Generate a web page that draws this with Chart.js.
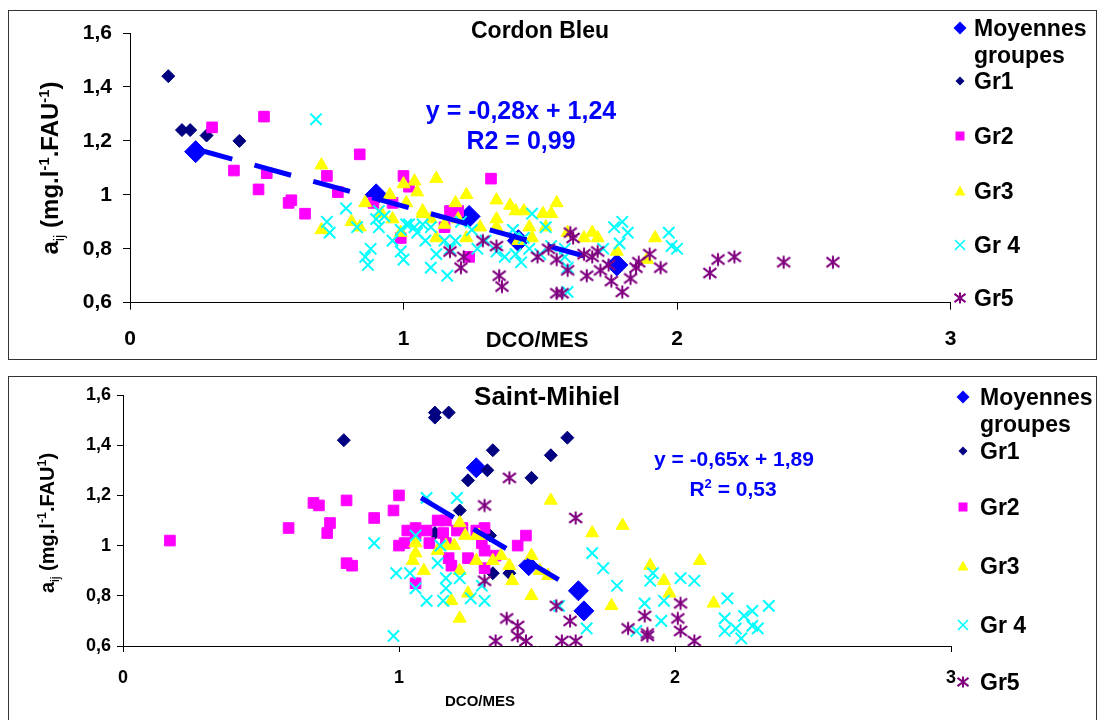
<!DOCTYPE html>
<html lang="fr">
<head>
<meta charset="utf-8">
<title>aij / DCO-MES</title>
<script src="https://cdn.jsdelivr.net/npm/chart.js@4.4.1/dist/chart.umd.min.js"></script>
<style>
  html, body { margin: 0; padding: 0; background: #fff; }
  #page { position: relative; width: 1098px; height: 720px; overflow: hidden;
          font-family: "Liberation Sans", Arial, sans-serif; font-weight: bold; color: #000; }
  .frame { position: absolute; border: 1px solid #333; box-sizing: border-box; }
  .chartbox { position: absolute; left: 0; }
  .lbl { position: absolute; white-space: nowrap; line-height: 1; }
  .mk { position: absolute; }
  sub, sup { font-size: 62%; line-height: 0; }
</style>
</head>
<body>
<div id="page">
  <div class="frame" style="left:8px;top:10px;width:1089px;height:350px"></div>
  <div class="frame" style="left:8px;top:376px;width:1089px;height:350px"></div>
  <canvas id="cbCanvas" class="chartbox" width="1098" height="360" style="top:0"></canvas>
  <canvas id="smCanvas" class="chartbox" width="1098" height="360" style="top:360px"></canvas>
</div>
<script>
// ---- Cordon Bleu (haut) : [DCO/MES, aij]
var cbMoy = [[0.24, 1.16], [0.90, 1.00], [1.24, 0.92], [1.42, 0.83], [1.78, 0.74]];
var cbGr1 = [[0.14, 1.44], [0.19, 1.24], [0.22, 1.24], [0.28, 1.22], [0.40, 1.20]];
var cbGr2 = [[0.30, 1.25], [0.49, 1.29], [0.38, 1.09], [0.50, 1.08], [0.47, 1.02], [0.59, 0.98],
  [0.58, 0.97], [0.64, 0.93], [0.84, 1.15], [0.72, 1.07], [0.76, 1.01], [1.00, 1.07], [0.89, 0.97],
  [0.96, 0.97], [0.99, 0.84], [1.02, 1.03], [1.32, 1.06], [1.17, 0.94], [1.20, 0.94], [1.15, 0.88],
  [1.24, 0.77]];
var cbGr3 = [[0.70, 1.11], [0.86, 0.97], [0.95, 1.00], [1.00, 1.04], [1.04, 1.05], [1.05, 1.01],
  [1.01, 0.97], [0.70, 0.87], [0.81, 0.90], [0.84, 0.88], [0.92, 0.93], [0.96, 0.91], [0.99, 0.86],
  [1.12, 1.06], [1.23, 1.00], [1.19, 0.97], [1.07, 0.94], [1.34, 0.98], [1.39, 0.96], [1.41, 0.94],
  [1.44, 0.94], [1.51, 0.93], [1.54, 0.93], [1.56, 0.97], [1.34, 0.91], [1.34, 0.88], [1.28, 0.88],
  [1.20, 0.91], [1.12, 0.84], [1.23, 0.84], [1.15, 0.89], [1.46, 0.88], [1.47, 0.84], [1.42, 0.83],
  [1.52, 0.88], [1.66, 0.84], [1.07, 0.93], [1.10, 0.91], [1.69, 0.86], [1.71, 0.84], [1.78, 0.79],
  [1.92, 0.84], [1.89, 0.76], [1.60, 0.86]];
var cbGr4 = [[0.68, 1.28], [0.79, 0.95], [0.72, 0.90], [0.73, 0.86], [0.83, 0.88], [0.88, 0.80],
  [0.86, 0.77], [0.87, 0.74], [0.91, 0.94], [0.90, 0.91], [0.93, 0.92], [0.91, 0.88], [0.96, 0.83],
  [0.99, 0.79], [1.00, 0.76], [1.01, 0.89], [1.04, 0.88], [0.99, 0.87], [1.02, 0.89], [1.05, 0.86],
  [1.07, 0.89], [1.08, 0.83], [1.10, 0.88], [1.10, 0.73], [1.12, 0.78], [1.15, 0.83], [1.16, 0.70],
  [1.17, 0.80], [1.19, 0.83], [1.21, 0.90], [1.25, 0.87], [1.27, 0.80], [1.30, 0.83], [1.34, 0.79],
  [1.37, 0.77], [1.40, 0.87], [1.41, 0.78], [1.43, 0.75], [1.46, 0.80], [1.47, 0.93], [1.50, 0.78],
  [1.52, 0.88], [1.54, 0.81], [1.59, 0.80], [1.60, 0.64], [1.44, 0.84], [1.77, 0.88], [1.80, 0.90],
  [1.82, 0.86], [1.79, 0.82], [1.97, 0.86], [1.98, 0.81], [2.00, 0.80], [1.59, 0.77], [1.60, 0.73],
  [1.73, 0.80]];
var cbGr5 = [[1.17, 0.79], [1.22, 0.77], [1.21, 0.73], [1.29, 0.83], [1.34, 0.81], [1.35, 0.70],
  [1.36, 0.66], [1.49, 0.77], [1.53, 0.80], [1.56, 0.76], [1.60, 0.72], [1.56, 0.635], [1.58, 0.635],
  [1.61, 0.86], [1.62, 0.84], [1.66, 0.78], [1.67, 0.70], [1.69, 0.77], [1.71, 0.79], [1.72, 0.72],
  [1.75, 0.74], [1.76, 0.68], [1.80, 0.64], [1.83, 0.69], [1.85, 0.73], [1.86, 0.75], [1.90, 0.78],
  [1.94, 0.73], [2.15, 0.76], [2.12, 0.71], [2.21, 0.77], [2.39, 0.75], [2.57, 0.75]];
var cbTrendX = [0.24, 1.78];
var cbTrendY = [1.17, 0.74];

// ---- Saint-Mihiel (bas)
var smMoy = [[1.28, 1.31], [1.47, 0.92], [1.65, 0.82], [1.67, 0.74]];
var smGr1 = [[0.80, 1.42], [1.13, 1.53], [1.13, 1.51], [1.18, 1.53], [1.34, 1.38], [1.32, 1.30],
  [1.25, 1.26], [1.48, 1.27], [1.55, 1.36], [1.61, 1.43], [1.22, 1.14], [1.34, 0.89], [1.40, 0.89],
  [1.33, 1.04], [1.13, 1.05]];
var smGr2 = [[0.17, 1.02], [0.60, 1.07], [0.69, 1.17], [0.71, 1.16], [0.75, 1.09], [0.74, 1.05],
  [0.81, 1.18], [0.91, 1.11], [0.98, 1.14], [0.81, 0.93], [0.83, 0.92], [1.00, 1.20], [1.00, 1.00],
  [1.03, 1.06], [1.02, 1.01], [1.06, 1.07], [1.06, 1.04], [1.10, 1.06], [1.11, 1.01], [1.14, 1.10],
  [1.17, 1.10], [1.16, 1.05], [1.17, 1.01], [1.21, 1.06], [1.23, 1.07], [1.18, 0.95], [1.19, 0.92],
  [1.25, 0.95], [1.28, 1.06], [1.31, 1.07], [1.30, 1.01], [1.31, 0.98], [1.31, 0.91], [1.35, 0.96],
  [1.43, 1.00], [1.46, 1.04], [1.06, 0.85]];
var smGr3 = [[1.22, 1.09], [1.24, 1.04], [1.28, 1.04], [1.20, 1.00], [1.17, 1.00], [1.06, 1.01],
  [1.06, 0.97], [1.05, 0.94], [1.09, 0.90], [1.14, 0.98], [1.25, 0.81], [1.19, 0.78], [1.22, 0.71],
  [1.22, 0.90], [1.28, 0.94], [1.34, 0.94], [1.37, 0.96], [1.40, 0.92], [1.41, 0.86], [1.48, 0.96],
  [1.51, 0.90], [1.54, 0.88], [1.48, 0.80], [1.55, 1.18], [1.70, 1.05], [1.81, 1.08], [1.77, 0.76],
  [1.91, 0.92], [1.96, 0.86], [1.98, 0.81], [2.09, 0.94], [2.14, 0.77], [1.29, 1.04]];
var smGr4 = [[0.91, 1.01], [0.99, 0.89], [0.98, 0.64], [1.10, 1.19], [1.21, 1.19], [1.06, 1.04],
  [1.15, 1.00], [1.04, 0.89], [1.06, 0.83], [1.10, 0.78], [1.16, 0.78], [1.17, 0.83], [1.14, 0.93],
  [1.17, 0.87], [1.22, 0.87], [1.26, 0.79], [1.30, 0.84], [1.31, 0.78], [1.58, 0.76], [1.68, 0.67],
  [1.70, 0.97], [1.74, 0.91], [1.79, 0.84], [1.86, 0.66], [1.89, 0.77], [1.92, 0.89], [1.91, 0.86],
  [1.95, 0.70], [1.96, 0.78], [2.02, 0.87], [2.07, 0.86], [2.19, 0.79], [2.18, 0.71], [2.18, 0.66],
  [2.22, 0.67], [2.24, 0.63], [2.25, 0.72], [2.28, 0.68], [2.28, 0.74], [2.30, 0.67], [2.34, 0.76]];
var smGr5 = [[1.40, 1.27], [1.31, 1.16], [1.64, 1.11], [1.31, 0.86], [1.39, 0.71], [1.43, 0.68],
  [1.43, 0.64], [1.46, 0.62], [1.35, 0.62], [1.57, 0.76], [1.62, 0.70], [1.59, 0.62], [1.64, 0.62],
  [1.83, 0.67], [1.89, 0.72], [1.90, 0.65], [2.01, 0.71], [2.02, 0.77], [2.02, 0.66], [2.07, 0.62],
  [1.90, 0.64]];
var smTrendX = [1.08, 1.60];
var smTrendY = [1.19, 0.85];

var legendLabels = ["Moyennes groupes", "Gr1", "Gr2", "Gr3", "Gr 4", "Gr5"];
var xRange = [0, 3];
var yRange = [0.6, 1.6];

var colMoy = "#0000FF", colGr1 = "#000080", colGr2 = "#FF00FF";
var colGr3 = "#FFFF00", colGr4 = "#00FFFF", colGr5 = "#800080";
var FONT = "'Liberation Sans', Arial, sans-serif";

function pts(arr) {
  return arr.map(function (p) { return { x: p[0], y: p[1] }; });
}
function zip(xs, ys) {
  return xs.map(function (x, i) { return { x: x, y: ys[i] }; });
}
function fmtComma(v) {
  return (Math.round(v * 10) / 10).toString().replace(".", ",");
}

// petit dessin de marqueur (legende + asterisque du Gr5)
function drawMark(g, kind, x, y, s, color) {
  var h = s / 2;
  g.fillStyle = color;
  g.strokeStyle = color;
  g.beginPath();
  if (kind === "diamond") {
    g.moveTo(x, y - h); g.lineTo(x + h, y); g.lineTo(x, y + h); g.lineTo(x - h, y);
    g.closePath(); g.fill();
  } else if (kind === "square") {
    g.fillRect(x - h, y - h, s, s);
  } else if (kind === "triangle") {
    g.moveTo(x, y - h); g.lineTo(x + h, y + h * 0.8); g.lineTo(x - h, y + h * 0.8);
    g.closePath(); g.fill();
  } else if (kind === "cross") {
    g.lineWidth = 1.6;
    g.moveTo(x - h, y - h); g.lineTo(x + h, y + h);
    g.moveTo(x + h, y - h); g.lineTo(x - h, y + h);
    g.stroke();
  } else if (kind === "star") {
    g.lineWidth = 2;
    g.moveTo(x - h, y - h * 0.75); g.lineTo(x + h, y + h * 0.75);
    g.moveTo(x + h, y - h * 0.75); g.lineTo(x - h, y + h * 0.75);
    g.moveTo(x, y - h); g.lineTo(x, y + h);
    g.stroke();
  }
}

function starImage(size) {
  var c = document.createElement("canvas");
  c.width = size; c.height = size;
  drawMark(c.getContext("2d"), "star", size / 2, size / 2, size - 3, colGr5);
  return c;
}

function buildSets(moy, g1, g2, g3, g4, g5, trend, big) {
  return [
    { label: "Gr5", data: pts(g5), pointStyle: starImage(16), pointRadius: 7, order: 0 },
    { label: "tendance", data: trend, showLine: true, borderColor: colMoy, borderWidth: 5,
      borderDash: [38, 23], borderCapStyle: "butt", pointRadius: 0, order: 1 },
    { label: "Gr 4", data: pts(g4), pointStyle: "crossRot", pointRadius: 8,
      pointBorderColor: colGr4, pointBorderWidth: 2, order: 2 },
    { label: "Gr3", data: pts(g3), pointStyle: "triangle", pointRadius: 7.5,
      pointBackgroundColor: colGr3, pointBorderColor: colGr3, pointBorderWidth: 1, order: 3 },
    { label: "Gr2", data: pts(g2), pointStyle: "rect", pointRadius: 7.5,
      pointBackgroundColor: colGr2, pointBorderColor: colGr2, pointBorderWidth: 1, order: 4 },
    { label: "Gr1", data: pts(g1), pointStyle: "rectRot", pointRadius: 6.5,
      pointBackgroundColor: colGr1, pointBorderColor: colGr1, pointBorderWidth: 1, order: 5 },
    { label: "Moyennes groupes", data: pts(moy), pointStyle: "rectRot", pointRadius: big,
      pointBackgroundColor: colMoy, pointBorderColor: colMoy, pointBorderWidth: 1, order: 6 }
  ];
}

function makeChart(id, sets, o) {
  var tickFont = { family: FONT, size: o.tickSize, weight: "bold" };
  return new Chart(document.getElementById(id), {
    type: "scatter",
    data: { datasets: sets },
    options: {
      responsive: false,
      animation: false,
      events: [],
      layout: { padding: { left: 0, top: o.top, right: o.right, bottom: 0 } },
      plugins: { legend: { display: false }, title: { display: false }, tooltip: { enabled: false } },
      scales: {
        x: {
          type: "linear", min: xRange[0], max: xRange[1],
          ticks: { stepSize: 1, padding: o.xPad, color: "#000", font: tickFont, maxRotation: 0 },
          grid: { drawOnChartArea: false, tickLength: o.tick, color: "#000", lineWidth: 1 },
          border: { color: "#000", width: 1 },
          afterFit: function (s) { s.height = o.xH; }
        },
        y: {
          type: "linear", min: yRange[0], max: yRange[1],
          ticks: { stepSize: 0.2, padding: o.yPad, color: "#000", font: tickFont,
                   callback: function (v) { return fmtComma(v); } },
          grid: { drawOnChartArea: false, tickLength: o.tick, color: "#000", lineWidth: 1 },
          border: { color: "#000", width: 1 },
          afterFit: function (s) { s.width = o.yW; }
        }
      }
    }
  });
}

// textes html
var page = document.getElementById("page");
function place(html, x, y, css, align) {
  var d = document.createElement("div");
  d.className = "lbl";
  d.innerHTML = html;
  d.style.cssText += css;
  d.style.left = x + "px";
  d.style.top = y + "px";
  d.style.transform = align === "left" ? "translate(0,-50%)" : "translate(-50%,-50%)";
  page.appendChild(d);
  return d;
}
function yTitle(html, x, y, size) {
  var d = place(html, x, y, "font-size:" + size + "px;");
  d.style.transform = "translate(-50%,-50%) rotate(-90deg)";
}

function legend(mx, tx, ys, sizes, fontSize) {
  var kinds = ["diamond", "diamond", "square", "triangle", "cross", "star"];
  var cols = [colMoy, colGr1, colGr2, colGr3, colGr4, colGr5];
  for (var i = 0; i < legendLabels.length; i++) {
    var c = document.createElement("canvas");
    c.width = 20; c.height = 20;
    c.className = "mk";
    c.style.left = (mx - 10) + "px";
    c.style.top = (ys[i] - 10) + "px";
    drawMark(c.getContext("2d"), kinds[i], 10, 10, sizes[i], cols[i]);
    page.appendChild(c);
    if (i === 0) {
      var w = legendLabels[0].split(" ");
      place(w[0], tx, ys[0], "font-size:" + fontSize + "px;", "left");
      place(w[1], tx, ys[0] + Math.round(fontSize * 1.18), "font-size:" + fontSize + "px;", "left");
    } else {
      place(legendLabels[i], tx, ys[i], "font-size:" + fontSize + "px;", "left");
    }
  }
}

// graphe du haut
makeChart("cbCanvas", buildSets(cbMoy, cbGr1, cbGr2, cbGr3, cbGr4, cbGr5, zip(cbTrendX, cbTrendY), 11),
  { top: 33, right: 147.5, yW: 130, xH: 57.3, tick: 7, tickSize: 21, xPad: 17, yPad: 11 });
// graphe du bas
makeChart("smCanvas", buildSets(smMoy, smGr1, smGr2, smGr3, smGr4, smGr5, zip(smTrendX, smTrendY), 10),
  { top: 35, right: 147, yW: 123, xH: 74, tick: 6, tickSize: 18, xPad: 15, yPad: 6 });

place("Cordon Bleu", 540, 30, "font-size:23px;");
place("y = -0,28x + 1,24", 521, 110, "font-size:25px;color:#0000FF;");
place("R2 = 0,99", 521, 140, "font-size:25px;color:#0000FF;");
place("DCO/MES", 537, 340, "font-size:22px;");
yTitle("a<sub style='font-weight:normal'>ij</sub> (mg.l<sup>-1</sup>.FAU<sup>-1</sup>)", 50, 168, 24);
legend(960, 974, [28, 81, 136, 191, 245, 298], [13, 9, 9, 11, 10, 11], 23);

place("Saint-Mihiel", 547, 396, "font-size:26px;");
place("y = -0,65x + 1,89", 734, 458, "font-size:21px;color:#0000FF;");
place("R<sup>2</sup> = 0,53", 733, 488, "font-size:21px;color:#0000FF;");
place("DCO/MES", 480, 700, "font-size:15px;");
yTitle("a<sub style='font-weight:normal'>ij</sub> (mg.l<sup>-1</sup>.FAU<sup>1</sup>)", 47, 523, 20);
legend(963, 980, [397, 451, 507, 566, 625, 682], [13, 9, 9, 11, 10, 11], 23);
</script>
</body>
</html>
